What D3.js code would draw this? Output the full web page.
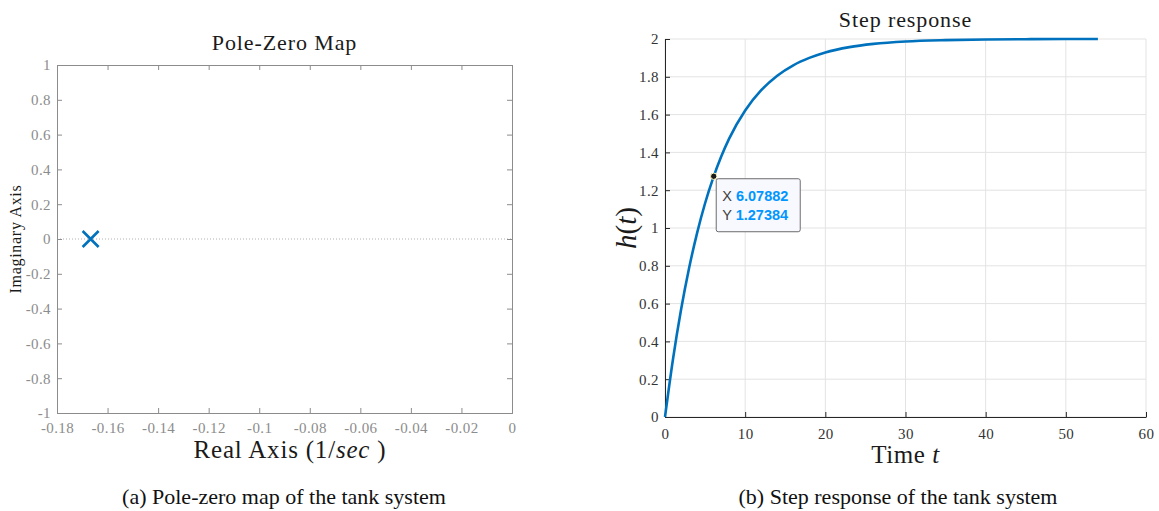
<!DOCTYPE html>
<html>
<head>
<meta charset="utf-8">
<script src="https://cdn.jsdelivr.net/npm/d3@7"></script>
<style>
  body { margin: 0; background: #fff; }
  svg text { font-family: 'Liberation Serif', 'DejaVu Serif', serif; }
</style>
</head>
<body>
<div id="chart"></div>
<script>
// pole-zero map data
var poleReal = [-0.1667];
var poleImag = [0];
var pzXTicks = [-0.18, -0.16, -0.14, -0.12, -0.1, -0.08, -0.06, -0.04, -0.02, 0];
var pzYTicks = [-1, -0.8, -0.6, -0.4, -0.2, 0, 0.2, 0.4, 0.6, 0.8, 1];

// step response
var stepTime = [0, 1, 2, 3, 4, 5, 6, 7, 8, 10, 12, 14, 16, 18, 20, 23, 26, 30, 35, 40, 45, 50, 54];
var stepValue = [0, 0.307, 0.567, 0.787, 0.973, 1.131, 1.264, 1.377, 1.473, 1.622, 1.729, 1.806,
  1.861, 1.900, 1.929, 1.957, 1.974, 1.987, 1.994, 1.997, 1.999, 2.0, 2.0];
var stepXTicks = [0, 10, 20, 30, 40, 50, 60];
var stepYTicks = [0, 0.2, 0.4, 0.6, 0.8, 1, 1.2, 1.4, 1.6, 1.8, 2];
var tipX = 6.07882, tipY = 1.27384;

var width = 1159, height = 511;
var blue = '#0072bd';
var serif = "'Liberation Serif', 'DejaVu Serif', serif";

var svg = d3.select('#chart').append('svg')
  .attr('width', width)
  .attr('height', height);

// ---------- (a) pole-zero map ----------
var pzLeft = 57, pzRight = 512, pzTop = 65, pzBottom = 413;
var px = d3.scaleLinear().domain([-0.18, 0]).range([pzLeft, pzRight]);
var py = d3.scaleLinear().domain([-1, 1]).range([pzBottom, pzTop]);
var grey = '#8c8c8c';

var pz = svg.append('g');

// zero line
pz.append('line')
  .attr('x1', pzLeft).attr('x2', pzRight)
  .attr('y1', py(0)).attr('y2', py(0))
  .attr('stroke', '#b0b0b0')
  .attr('stroke-width', 1)
  .attr('stroke-dasharray', '1,2');

function pzAxis(gen, tx, ty) {
  var g = pz.append('g')
    .attr('transform', 'translate(' + tx + ',' + ty + ')')
    .call(gen);
  g.select('.domain').attr('stroke', grey);
  g.selectAll('.tick line').attr('stroke', grey);
  g.selectAll('.tick text').attr('fill', grey)
    .style('font-family', serif).style('font-size', '15px').style('letter-spacing', '0.4px');
  return g;
}
var fmt = function (d) { return String(d); };

pzAxis(d3.axisBottom(px).tickValues(pzXTicks).tickSize(-5).tickPadding(9).tickFormat(fmt), 0, pzBottom);
pzAxis(d3.axisTop(px).tickValues(pzXTicks).tickSize(-5).tickFormat(''), 0, pzTop);
pzAxis(d3.axisLeft(py).tickValues(pzYTicks).tickSize(-5).tickPadding(6).tickFormat(fmt), pzLeft, 0);
pzAxis(d3.axisRight(py).tickValues(pzYTicks).tickSize(-5).tickFormat(''), pzRight, 0);

// pole marker
var cs = 8;
pz.selectAll('.pole')
  .data(poleReal)
  .enter().append('path')
  .attr('class', 'pole')
  .attr('d', function (d, i) {
    var x = px(d), y = py(poleImag[i]);
    return 'M' + (x - cs) + ',' + (y - cs) + 'L' + (x + cs) + ',' + (y + cs) +
      'M' + (x - cs) + ',' + (y + cs) + 'L' + (x + cs) + ',' + (y - cs);
  })
  .attr('stroke', blue)
  .attr('stroke-width', 2.6)
  .attr('fill', 'none');

pz.append('text')
  .attr('x', (pzLeft + pzRight) / 2).attr('y', 50)
  .attr('text-anchor', 'middle').attr('font-size', 22)
  .attr('letter-spacing', 0.9)
  .attr('fill', '#1a1a1a')
  .text('Pole-Zero Map');

pz.append('text')
  .attr('transform', 'translate(21,' + ((pzTop + pzBottom) / 2) + ') rotate(-90)')
  .attr('text-anchor', 'middle').attr('font-size', 16)
  .attr('letter-spacing', 0.7)
  .attr('fill', '#1a1a1a')
  .text('Imaginary Axis');

var rl = pz.append('text')
  .attr('x', 290).attr('y', 458)
  .attr('text-anchor', 'middle').attr('font-size', 25)
  .attr('letter-spacing', 0.8)
  .attr('fill', '#1a1a1a');
rl.append('tspan').text('Real Axis (1/');
rl.append('tspan').attr('font-style', 'italic').text('sec');
rl.append('tspan').text(' )');

svg.append('text')
  .attr('x', 284).attr('y', 504)
  .attr('text-anchor', 'middle').attr('font-size', 22)
  .attr('fill', '#111')
  .text('(a) Pole-zero map of the tank system');

// ---------- (b) step response ----------
var srLeft = 665, srRight = 1146, srTop = 39, srBottom = 417;
var sx = d3.scaleLinear().domain([0, 60]).range([srLeft, srRight]);
var sy = d3.scaleLinear().domain([0, 2]).range([srBottom, srTop]);

var sr = svg.append('g');

// grid
sr.selectAll('.vgrid')
  .data(stepXTicks)
  .enter().append('line')
  .attr('x1', function (d) { return sx(d); })
  .attr('x2', function (d) { return sx(d); })
  .attr('y1', srTop).attr('y2', srBottom)
  .attr('stroke', '#e3e3e3').attr('stroke-width', 1);
sr.selectAll('.hgrid')
  .data(stepYTicks)
  .enter().append('line')
  .attr('x1', srLeft).attr('x2', srRight)
  .attr('y1', function (d) { return sy(d); })
  .attr('y2', function (d) { return sy(d); })
  .attr('stroke', '#e3e3e3').attr('stroke-width', 1);

function srAxis(gen, tx, ty) {
  var g = sr.append('g')
    .attr('transform', 'translate(' + tx + ',' + ty + ')')
    .call(gen);
  g.select('.domain').attr('stroke', '#262626');
  g.selectAll('.tick line').attr('stroke', '#262626');
  g.selectAll('.tick text').attr('fill', '#333')
    .style('font-family', serif).style('font-size', '15px').style('letter-spacing', '0.4px');
  return g;
}
srAxis(d3.axisBottom(sx).tickValues(stepXTicks).tickSize(-5).tickSizeOuter(0).tickPadding(11).tickFormat(d3.format('d')), 0, srBottom);
srAxis(d3.axisLeft(sy).tickValues(stepYTicks).tickSize(-5).tickSizeOuter(0).tickPadding(6).tickFormat(fmt), srLeft, 0);

var line = d3.line()
  .x(function (d, i) { return sx(stepTime[i]); })
  .y(function (d) { return sy(d); })
  .curve(d3.curveMonotoneX);

sr.append('path')
  .datum(stepValue)
  .attr('d', line)
  .attr('fill', 'none')
  .attr('stroke', blue)
  .attr('stroke-width', 2.6);

// data tip
sr.append('circle')
  .attr('cx', sx(tipX)).attr('cy', sy(tipY))
  .attr('r', 3.2)
  .attr('fill', '#1a1a1a')
  .attr('stroke', '#ffffc0').attr('stroke-width', 1);

var tipBox = sr.append('g')
  .attr('transform', 'translate(' + (sx(tipX) + 2.5) + ',' + (sy(tipY) + 2.5) + ')');
tipBox.append('rect')
  .attr('width', 84).attr('height', 53).attr('rx', 2)
  .attr('fill', '#f8f8ff').attr('stroke', '#6b6b6b').attr('stroke-width', 1);
[['X', tipX], ['Y', tipY]].forEach(function (r, i) {
  var t = tipBox.append('text')
    .attr('x', 6).attr('y', 22 + i * 19)
    .attr('font-size', 14.5)
    .style('font-family', "'Liberation Sans', Arial, sans-serif");
  t.append('tspan').attr('fill', '#404040').text(r[0] + ' ');
  t.append('tspan').attr('fill', '#0096ff').attr('font-weight', 'bold').text(String(r[1]));
});

sr.append('text')
  .attr('x', (srLeft + srRight) / 2).attr('y', 27)
  .attr('text-anchor', 'middle').attr('font-size', 22)
  .attr('letter-spacing', 0.9)
  .attr('fill', '#1a1a1a')
  .text('Step response');

var hl = sr.append('text')
  .attr('transform', 'translate(636,' + ((srTop + srBottom) / 2) + ') rotate(-90)')
  .attr('text-anchor', 'middle').attr('font-size', 29)
  .attr('fill', '#1a1a1a');
hl.append('tspan').attr('font-style', 'italic').text('h');
hl.append('tspan').text('(');
hl.append('tspan').attr('font-style', 'italic').text('t');
hl.append('tspan').text(')');

var tl = sr.append('text')
  .attr('x', (srLeft + srRight) / 2).attr('y', 463)
  .attr('text-anchor', 'middle').attr('font-size', 25)
  .attr('letter-spacing', 0.6)
  .attr('fill', '#1a1a1a');
tl.append('tspan').text('Time ');
tl.append('tspan').attr('font-style', 'italic').text('t');

svg.append('text')
  .attr('x', 898).attr('y', 504)
  .attr('text-anchor', 'middle').attr('font-size', 22)
  .attr('fill', '#111')
  .text('(b) Step response of the tank system');
</script>
</body>
</html>
